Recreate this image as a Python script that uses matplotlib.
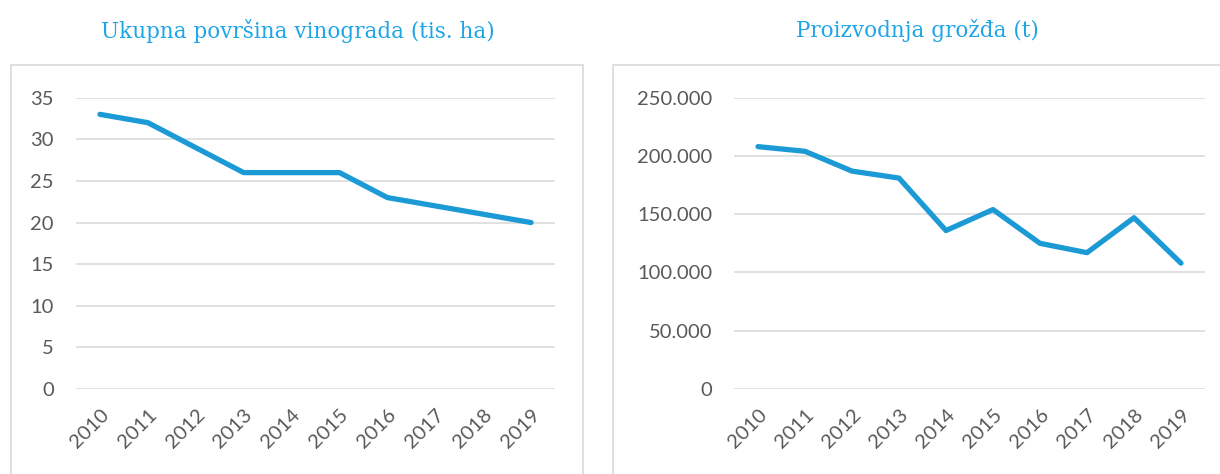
import matplotlib
matplotlib.use("Agg")
import matplotlib.pyplot as plt
from matplotlib.patches import Rectangle
from matplotlib.ticker import FuncFormatter

# ----------------------------------------------------------------------------
years = ["2010", "2011", "2012", "2013", "2014",
         "2015", "2016", "2017", "2018", "2019"]
area_kha = [33, 32, 29, 26, 26, 26, 23, 22, 21, 20]
grapes_t = [208000, 204000, 187000, 181000, 136000,
            154000, 125000, 117000, 147000, 108000]

title_area = "Ukupna površina vinograda (tis. ha)"
title_grapes = "Proizvodnja grožđa (t)"

LINE = "#1b9ad6"
TITLE = "#1ea5e6"
GRID = "#d9d9d9"
TICK = "#595959"
W, H = 1220, 474


def _box(fig, x0, y0, x1, y1):
    """Light grey chart-area frame, given in pixel coords (top-left origin)."""
    fig.patches.append(Rectangle((x0 / W, 1 - y1 / H), (x1 - x0) / W,
                                 (y1 - y0) / H, transform=fig.transFigure,
                                 fill=False, ec=GRID, lw=1.2, zorder=0))


def _panel(fig, rect, values, ymax, step, title, tx, fmt=None):
    ax = fig.add_axes(rect)
    x = range(len(years))
    ax.plot(x, values, color=LINE, lw=3.8, solid_capstyle="round",
            solid_joinstyle="round", zorder=3)
    ax.set_xlim(-0.5, len(years) - 0.5)
    ax.set_ylim(0, ymax)
    ax.set_yticks(range(0, ymax + 1, step))
    if fmt:
        ax.yaxis.set_major_formatter(FuncFormatter(fmt))
    ax.set_xticks(list(x))
    ax.set_xticklabels(years, rotation=45, ha="right", va="top",
                       rotation_mode="anchor")
    ax.grid(axis="y", color=GRID, lw=1.1)
    ax.set_axisbelow(True)
    for s in ax.spines.values():
        s.set_visible(False)
    ax.tick_params(length=0, colors=TICK, labelsize=14.5)
    ax.tick_params(axis="y", pad=16)
    ax.tick_params(axis="x", pad=12)
    for lab in ax.get_xticklabels() + ax.get_yticklabels():
        lab.set_fontfamily(["Lato", "DejaVu Sans"])
    fig.text(tx / W, 1 - 31 / H, title, ha="center", va="center",
             color=TITLE, fontsize=15.5, family=["DejaVu Serif"])
    return ax


fig = plt.figure(figsize=(W / 100, H / 100), dpi=100)
fig.patch.set_facecolor("white")

_box(fig, 11, 65, 583, 480)
_box(fig, 613, 65, 1230, 480)

bot = 1 - 389 / H
hgt = (389 - 97.7) / H
_panel(fig, [76 / W, bot, 479 / W, hgt], area_kha, 35, 5,
       title_area, 298)
_panel(fig, [734.5 / W, bot, 470 / W, hgt], grapes_t, 250000, 50000,
       title_grapes, 917, fmt=lambda v, p: f"{int(v):,}".replace(",", "."))

fig.savefig("out.png", dpi=100)
